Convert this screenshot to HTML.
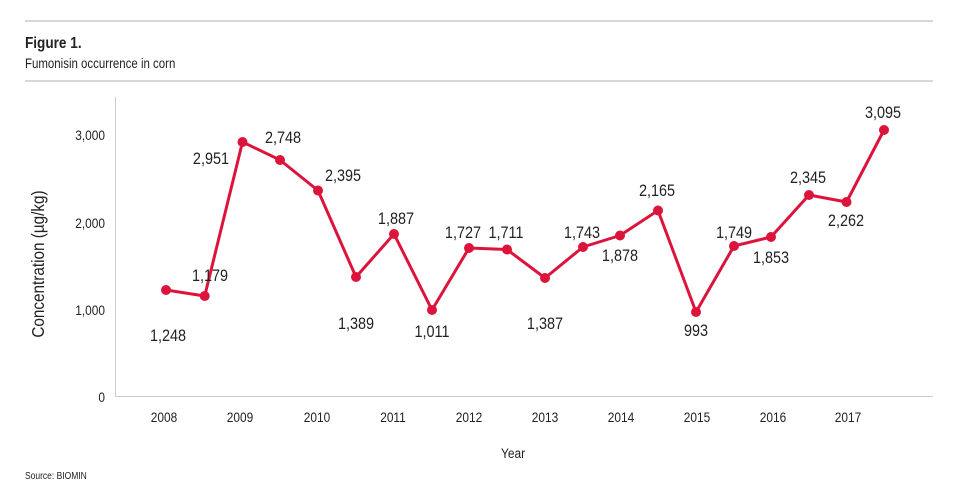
<!DOCTYPE html><html><head><style>body{margin:0;background:#fff}svg text{font-family:"Liberation Sans",sans-serif;fill:#222;transform-box:fill-box;transform-origin:center;transform:scaleX(0.85)}svg text.l{transform-origin:left}svg text.r{transform-origin:right}</style></head><body>
<svg width="960" height="495" xmlns="http://www.w3.org/2000/svg">
<line x1="25" y1="21" x2="933" y2="21" stroke="#ccc" stroke-width="1.5"/>
<line x1="25" y1="81" x2="933" y2="81" stroke="#ccc" stroke-width="1.5"/>
<text class="l" x="25" y="48" font-size="16" font-weight="bold">Figure 1.</text>
<text class="l" x="25" y="68" font-size="13.5">Fumonisin occurrence in corn</text>
<line x1="115.5" y1="97" x2="115.5" y2="397" stroke="#ccc"/>
<line x1="115" y1="396.5" x2="933" y2="396.5" stroke="#ccc"/>
<g font-size="14" text-anchor="end">
<text class="r" x="105" y="402">0</text><text class="r" x="105" y="315">1,000</text><text class="r" x="105" y="228">2,000</text><text class="r" x="105" y="140">3,000</text></g>
<g font-size="14" text-anchor="middle">
<text x="164" y="422">2008</text><text x="240" y="422">2009</text><text x="317" y="422">2010</text><text x="393" y="422">2011</text><text x="469" y="422">2012</text><text x="545" y="422">2013</text><text x="621" y="422">2014</text><text x="697" y="422">2015</text><text x="773" y="422">2016</text><text x="848" y="422">2017</text>
<text x="513" y="458">Year</text></g>
<g transform="translate(44,264) rotate(-90)"><text x="0" y="0" text-anchor="middle" font-size="18">Concentration (µg/kg)</text></g>
<text class="l" x="25" y="479" font-size="10">Source: BIOMIN</text>
<polyline fill="none" stroke="#dc143c" stroke-width="3" stroke-linejoin="round" points="166,290 204.7,296 242.5,142 280,160 318,190.5 356,277 394,234 432,310 469,248 507,249.5 545,278 583,247 620,235.5 658,210.5 696,312 734,246 771,237 809,195 846.5,202 884,130"/>
<g fill="#dc143c"><circle cx="166" cy="290" r="5"/><circle cx="204.7" cy="296" r="5"/><circle cx="242.5" cy="142" r="5"/><circle cx="280" cy="160" r="5"/><circle cx="318" cy="190.5" r="5"/><circle cx="356" cy="277" r="5"/><circle cx="394" cy="234" r="5"/><circle cx="432" cy="310" r="5"/><circle cx="469" cy="248" r="5"/><circle cx="507" cy="249.5" r="5"/><circle cx="545" cy="278" r="5"/><circle cx="583" cy="247" r="5"/><circle cx="620" cy="235.5" r="5"/><circle cx="658" cy="210.5" r="5"/><circle cx="696" cy="312" r="5"/><circle cx="734" cy="246" r="5"/><circle cx="771" cy="237" r="5"/><circle cx="809" cy="195" r="5"/><circle cx="846.5" cy="202" r="5"/><circle cx="884" cy="130" r="5"/></g>
<g font-size="17" text-anchor="middle">
<text x="168" y="341">1,248</text><text x="210" y="281">1,179</text><text x="211" y="164">2,951</text><text x="283" y="143">2,748</text><text x="343" y="181">2,395</text><text x="356" y="329">1,389</text><text x="396" y="224">1,887</text><text x="432" y="337">1,011</text><text x="463" y="238">1,727</text><text x="506" y="238">1,711</text><text x="545" y="329">1,387</text><text x="582" y="238">1,743</text><text x="620" y="261">1,878</text><text x="657" y="196">2,165</text><text x="696" y="336">993</text><text x="734" y="238">1,749</text><text x="771" y="263">1,853</text><text x="808" y="183">2,345</text><text x="846" y="226">2,262</text><text x="883" y="118">3,095</text></g>
</svg></body></html>
